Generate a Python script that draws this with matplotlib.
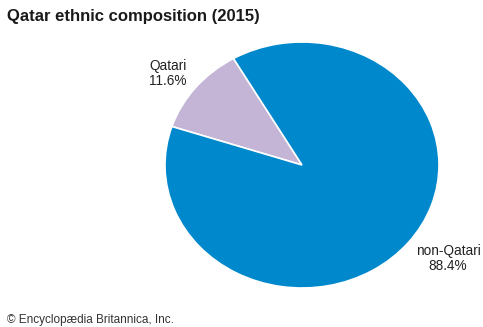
import matplotlib
matplotlib.use("Agg")
import matplotlib.pyplot as plt

plt.rcParams['font.family'] = ['Liberation Sans', 'DejaVu Sans']

categories = ["Qatari", "non-Qatari"]
values = [11.6, 88.4]
colors = ["#c4b5d6", "#0088cc"]
title = "Qatar ethnic composition (2015)"
source = "© Encyclopædia Britannica, Inc."

W, H = 483, 327
fig = plt.figure(figsize=(W / 100, H / 100), dpi=100)
fig.patch.set_facecolor("white")

ax = fig.add_axes([165 / W, 1 - 288 / H, 274 / W, 246 / H])
ax.pie(values, colors=colors, startangle=120, counterclock=True,
       wedgeprops=dict(edgecolor="white", linewidth=1.2))
ax.set_aspect("auto")
ax.set_xlim(-1, 1)
ax.set_ylim(-1, 1)

fig.text(7 / W, 1 - 17 / H, title, fontsize=12, fontweight="bold",
         ha="left", va="center", color="#1a1a1a")

fig.text(149 / W, 1 - 73.5 / H, f"{categories[0]}\n{values[0]}%", fontsize=9.8,
         ha="left", va="center", color="#222222", linespacing=1.05)
fig.text(448 / W, 1 - 258.5 / H, f"{categories[1]}\n{values[1]}%", fontsize=9.8,
         ha="center", va="center", color="#222222", linespacing=1.05)

fig.text(7 / W, 1 - 320 / H, source, fontsize=8.5, ha="left", va="center",
         color="#333333")

fig.savefig("out.png", dpi=100, facecolor="white")
